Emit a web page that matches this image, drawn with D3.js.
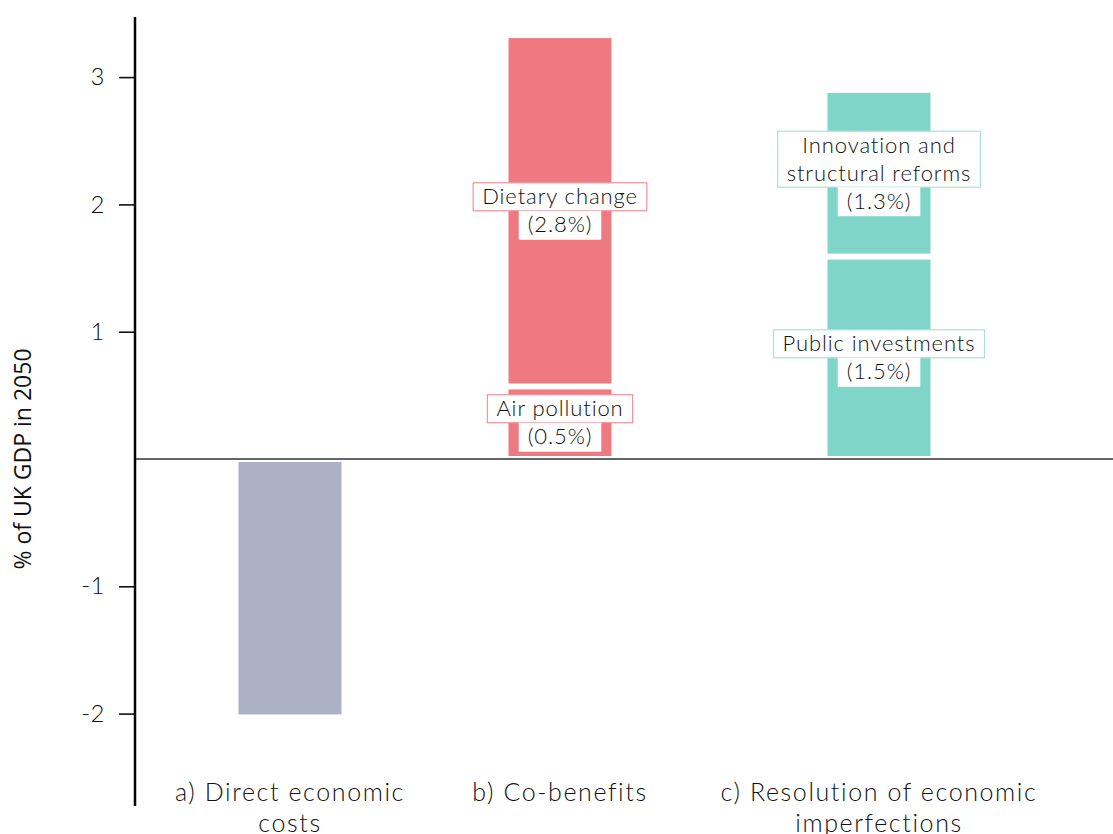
<!DOCTYPE html>
<html>
<head>
<meta charset="utf-8">
<script src="https://cdn.jsdelivr.net/npm/d3@7"></script>
<style>
  html, body { margin: 0; padding: 0; background: #fff; }
  svg { display: block; }
</style>
</head>
<body>
<svg id="chart" width="1113" height="834"></svg>
<script>
// ---- data ----
const categories = ["a", "b", "c"];
const categoryLines = [
  ["a) Direct economic", "costs"],
  ["b) Co-benefits"],
  ["c) Resolution of economic", "imperfections"]
];
const segCategory = ["a", "b", "b", "c", "c"];
const segName = ["Direct economic costs", "Air pollution", "Dietary change", "Public investments", "Innovation and\nstructural reforms"];
const segValue = [-2.03, 0.57, 2.76, 1.59, 1.31];
const segLabel = [null, "(0.5%)", "(2.8%)", "(1.5%)", "(1.3%)"];
const categoryColors = ["#ADB1C6", "#EF7981", "#80D5C9"];
const labelBorderColors = ["#CCCCCC", "#F3939A", "#A9E2DA"];
const yTicks = [-2, -1, 1, 2, 3];
const yTitle = "% of UK GDP in 2050";

// ---- layout ----
const svg = d3.select("#chart");
const axisX = 135;
const y = d3.scaleLinear().domain([-2, 3]).range([713.6, 77.1]);
const x = d3.scaleOrdinal().domain(categories).range([290, 560, 879]);
const barW = 103;
const inset = 3;
const color = d3.scaleOrdinal().domain(categories).range(categoryColors);
const borderColor = d3.scaleOrdinal().domain(categories).range(labelBorderColors);

// stack segments per category
const segs = [];
const running = {};
segCategory.forEach((c, i) => {
  const base = running[c] || 0;
  const v = segValue[i];
  const y0 = base, y1 = base + v;
  running[c] = y1;
  segs.push({ cat: c, name: segName[i], value: v, label: segLabel[i], y0, y1 });
});

const font = "Lato, 'Open Sans', sans-serif";

// bars
svg.append("g").selectAll("rect").data(segs).join("rect")
  .attr("x", d => x(d.cat) - barW / 2)
  .attr("width", barW)
  .attr("y", d => Math.min(y(d.y0), y(d.y1)) + inset)
  .attr("height", d => Math.abs(y(d.y0) - y(d.y1)) - 2 * inset)
  .attr("fill", d => color(d.cat));

// zero line
svg.append("line")
  .attr("x1", axisX).attr("x2", 1113)
  .attr("y1", y(0)).attr("y2", y(0))
  .attr("stroke", "#333").attr("stroke-width", 1.5);

// y axis
const yAxis = d3.axisLeft(y).tickValues(yTicks).tickSize(16).tickPadding(14)
  .tickFormat(d => String(d));
const gy = svg.append("g").attr("transform", `translate(${axisX},0)`).call(yAxis);
gy.select(".domain").remove();
gy.selectAll(".tick line").attr("stroke", "#111").attr("stroke-width", 1.6);
gy.selectAll(".tick text").attr("font-family", font).attr("font-weight", 300)
  .attr("font-size", 24).attr("letter-spacing", 0.5).attr("fill", "#111");
svg.append("line").attr("x1", axisX).attr("x2", axisX).attr("y1", 17).attr("y2", 806)
  .attr("stroke", "#000").attr("stroke-width", 2.5);

// y title
svg.append("text")
  .attr("transform", `translate(31, ${y(0)}) rotate(-90)`)
  .attr("text-anchor", "middle")
  .attr("font-family", "'Open Sans', sans-serif")
  .attr("font-size", 23)
  .attr("fill", "#111")
  .text(yTitle);

// category labels
categories.forEach((c, i) => {
  const t = svg.append("text")
    .attr("x", x(c)).attr("y", 801)
    .attr("text-anchor", "middle")
    .attr("font-family", font).attr("font-weight", 300)
    .attr("font-size", 25).attr("letter-spacing", 1.6).attr("fill", "#111");
  categoryLines[i].forEach((ln, j) => {
    t.append("tspan").attr("x", x(c)).attr("dy", j === 0 ? 0 : 31).text(ln);
  });
});

// segment labels
const lh = 28, padX = 9, fs = 22;
segs.filter(d => d.label).forEach(d => {
  const lines = d.name.split("\n");
  const all = lines.concat([d.label]);
  const cx = x(d.cat);
  const cy = (y(d.y0) + y(d.y1)) / 2;
  const top = cy - all.length * lh / 2;
  const g = svg.append("g");
  const boxRect = g.append("rect");
  const pctRect = g.append("rect");
  const texts = all.map((ln, j) => g.append("text")
    .attr("x", cx).attr("y", top + j * lh + lh / 2 + 7.5)
    .attr("text-anchor", "middle")
    .attr("font-family", font).attr("font-weight", 300)
    .attr("font-size", fs).attr("letter-spacing", 0.9).attr("fill", "#111")
    .text(ln));
  const nameW = d3.max(texts.slice(0, lines.length), t => t.node().getComputedTextLength());
  const pctW = texts[texts.length - 1].node().getComputedTextLength();
  pctRect.attr("x", cx - pctW / 2 - padX).attr("width", pctW + 2 * padX)
    .attr("y", top + lines.length * lh).attr("height", lh + 1)
    .attr("fill", "#fff");
  boxRect.attr("x", cx - nameW / 2 - padX).attr("width", nameW + 2 * padX)
    .attr("y", top).attr("height", lines.length * lh)
    .attr("fill", "#fff").attr("stroke", borderColor(d.cat)).attr("stroke-width", 1.2);
});
</script>
</body>
</html>
